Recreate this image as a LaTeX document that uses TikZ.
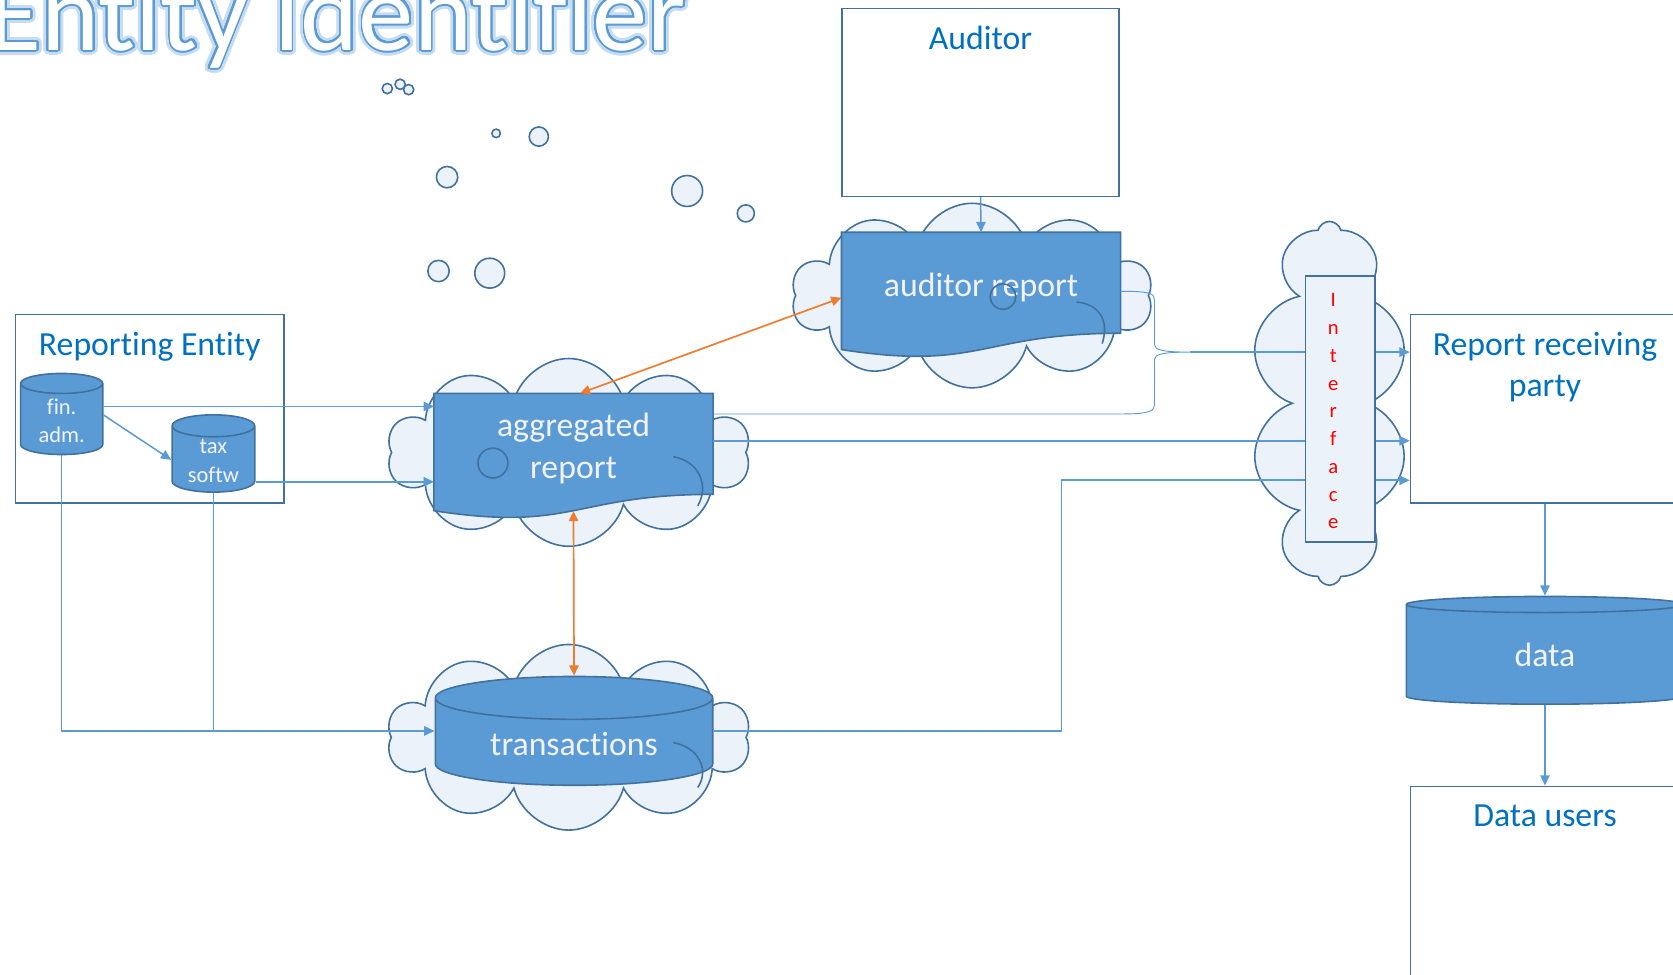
\documentclass[tikz,border=0pt]{standalone}
\usepackage{fontspec}
\setmainfont{Carlito}[Ligatures=NoCommon]
\usepackage[copies]{contour}
\usetikzlibrary{ shapes.symbols,   % For the clouds
                 shapes.geometric, % For the cylinders
                 arrows.meta,
                 calc,
                 positioning,      % For easy node-relative placements
               }
\definecolor{fillblue}{HTML}{5B9BD5}
\definecolor{lineblue}{HTML}{41719C}
\definecolor{cloudfill}{HTML}{EBF2FA}
\definecolor{textblue}{HTML}{0070C0}
\definecolor{linkorange}{HTML}{ED7D31}
\definecolor{softwhite}{HTML}{F2F2F7}
\definecolor{glowblue}{HTML}{C5DCF1}

\tikzstyle{conn} = [-{Triangle[length=5.5pt,width=5pt]}, fillblue, line width=0.8pt]
\tikzstyle{plain} = [fillblue, line width=0.8pt]
\tikzstyle{link} = [{Triangle[length=5.5pt,width=5pt]}-{Triangle[length=5.5pt,width=5pt]}, linkorange, line width=0.9pt]
\tikzstyle{brace} = [fillblue, line width=0.5pt]
\tikzstyle{puff} = [cloud, cloud puffs=10, fill=cloudfill, draw=lineblue, line width=0.85pt]
\tikzstyle{bubble} = [fill=cloudfill, draw=lineblue, line width=0.85pt]
\tikzstyle{party} = [rectangle, draw=lineblue, fill=white, line width=0.85pt]
\tikzstyle{store} = [cylinder, shape border rotate=90, anchor=shape center, draw=lineblue, fill=fillblue,
                     line width=0.85pt, text=softwhite, align=center, inner sep=1pt]
\tikzstyle{docarea} = [rectangle, inner sep=0pt]
\tikzstyle{partylabel} = [text=textblue, font=\fontsize{18}{22}\selectfont, align=center]
\tikzstyle{inner} = [text=softwhite, font=\fontsize{18}{22.5}\selectfont, align=center]

% office style document shape on a plain node
\newcommand{\docshape}[1]{%
  \filldraw[fill=fillblue, draw=lineblue, line width=0.85pt] (#1.north west) -- (#1.north east) -- (#1.south east)
    .. controls (#1.south) and ($(#1.south)+(0,35.6)$) .. ($(#1.south west)+(0,15.3)$) -- cycle;}

\begin{document}
\begin{tikzpicture}[x=0.02cm, y=-0.02cm]
  \useasboundingbox (0,0) rectangle (1568,913);

  % title
  \node (titleglow) [anchor=base west, inner sep=0pt, font=\fontsize{59}{60}\selectfont] at (-12,47)
    {\contournumber{32}\contourlength{2.6pt}\textcolor{glowblue}{\contour{glowblue}{Entity Identifier}}};
  \node (title) [anchor=base west, inner sep=0pt, font=\fontsize{59}{60}\selectfont] at (-12,47)
    {\contournumber{32}\contourlength{1pt}\textcolor{white}{\contour{fillblue}{Entity Identifier}}};

  % thought bubbles
  \foreach \x/\y/\r in {363/83/4.8, 383/84/4.8, 375/79/4.8, 465/125/4, 505/128/9, 419/166/10,
                        644/179/14.5, 699/200/8, 411/254/10, 459/256/14}
    \filldraw[bubble] (\x,\y) circle (\r);

  % clouds
  \node (audcloud) [puff, minimum width=6.76cm, minimum height=3.46cm] at (911,277) {};
  \node (aggcloud) [puff, minimum width=6.8cm, minimum height=3.52cm] at (533,424) {};
  \node (trcloud) [puff, minimum width=6.8cm, minimum height=3.48cm] at (533,691) {};
  \node (ifcloud) [puff, minimum width=2.94cm, minimum height=6.82cm] at (1246,378) {};

  % parties
  \node (repent) [party, minimum width=5.03cm, minimum height=3.54cm] at (140.35,383.1) {};
  \node (repentlbl) [partylabel, below=6.5pt of repent.north] {Reporting Entity};
  \node (auditor) [party, minimum width=5.2cm, minimum height=3.52cm] at (919,96) {};
  \node (auditorlbl) [partylabel, below=6pt of auditor.north] {Auditor};
  \node (recv) [party, minimum width=5.04cm, minimum height=3.54cm] at (1448,383.1) {};
  \node (recvlbl) [partylabel, below=6.5pt of recv.north] {Report receiving\\party};
  \node (users) [party, minimum width=5.04cm, minimum height=4.46cm] at (1448,848.5) {};
  \node (userslbl) [partylabel, below=7pt of users.north] {Data users};

  % reports
  \node (agg) [docarea, minimum width=5.22cm, minimum height=1.88cm] at (537.5,416) {};
  \docshape{agg}
  \node (aggtext) [inner] at (537.5,420) {aggregated\\report};
  \node (audrep) [docarea, minimum width=5.22cm, minimum height=1.88cm] at (919.5,265) {};
  \docshape{audrep}
  \node (audtext) [inner] at (919.5,269) {auditor report};

  % stores
  \node (finadm) [store, minimum width=1.54cm, minimum height=1.52cm, aspect=0.4,
                  font=\fontsize{12}{15.3}\selectfont] at (57.8,388) {fin.\\adm.};
  \node (taxsw) [store, minimum width=1.55cm, minimum height=1.44cm, aspect=0.4,
                 font=\fontsize{12}{15.3}\selectfont] at (200,425) {tax\\softw};
  \node (trans) [store, minimum width=5.2cm, minimum height=2.04cm, aspect=0.25,
                 font=\fontsize{18}{22}\selectfont] at (538,685) {transactions};
  \node (data) [store, minimum width=5.2cm, minimum height=2.02cm, aspect=0.25,
                font=\fontsize{18}{22}\selectfont] at (1448,609.5) {data};

  % connectors
  \coordinate (fa1) at ([yshift=0.27cm]finadm.east);
  \coordinate (fa2) at ([yshift=0.11cm]finadm.east);
  \coordinate (ts1) at ([yshift=-0.39cm]taxsw.east);
  \coordinate (trin) at ([yshift=0.24cm]trans.west);
  \coordinate (trout) at ([yshift=0.24cm]trans.east);
  \coordinate (aggout) at ([yshift=0.56cm]agg.east);
  \coordinate (rv2) at ([yshift=-0.6cm]recv.west);
  \coordinate (rv3) at ([yshift=-1.34cm]recv.west);
  \coordinate (bracetip) at (1115,330);
  \draw[conn] (fa1) -- (fa1 -| agg.west);
  \draw[conn] (fa2) -- ([yshift=0.02cm]taxsw.west);
  \draw[conn] (ts1) -- (ts1 -| agg.west);
  \draw[conn] (finadm.south) |- (trin);
  \draw[plain] (taxsw.south) -- (taxsw.south |- trin);
  \draw[conn] (trout) -| ($(trout)!.5!(rv3)$) |- (rv3);
  \draw[conn] (rv2 -| agg.east) -- (rv2);
  \draw[brace] ([yshift=-0.16cm]audrep.east) .. controls (1078,273) and (1082,275) .. (1082,281)
    -- (1082,323) .. controls (1082,328) and (1090,330) .. (bracetip)
    .. controls (1090,330) and (1082,332) .. (1082,337) -- (1082,380)
    .. controls (1082,386) and (1074,388) .. (1050,388) -- (aggout);
  \draw[conn] (bracetip) -- (bracetip -| recv.west);
  \draw[conn] (auditor.south) -- (audrep.north);
  \draw[conn] (recv.south) -- (data.north);
  \draw[conn] (data.south) -- (users.north);
  \draw[link] ([xshift=0.12cm]agg.north) -- ([yshift=-0.28cm]audrep.west);
  \draw[link] ([yshift=-0.31cm]agg.south) -- (trans.north);

  % interface
  \node (iface) [rectangle, draw=lineblue, fill=cloudfill, line width=0.85pt,
                 minimum width=1.3cm, minimum height=4.99cm] at (1256.2,383.2) {};
  \node (iftext) [text=red, font=\fontsize{11}{14.8}\selectfont, align=center] at (1249.6,385.5)
    {I\\n\\t\\e\\r\\f\\a\\c\\e};

  % cloud arcs showing through
  \draw[lineblue, line width=0.85pt] (940,278) circle (12);
  \draw[lineblue, line width=0.85pt] (462,434) circle (14);
  \draw[lineblue, line width=0.85pt] (1009,283) .. controls (1030,285) and (1040,300) .. (1033,322);
  \draw[lineblue, line width=0.85pt] (631,428) .. controls (655,432) and (665,455) .. (654,474);
  \draw[lineblue, line width=0.85pt] (631,696) .. controls (655,700) and (665,722) .. (654,738);
\end{tikzpicture}
\end{document}
